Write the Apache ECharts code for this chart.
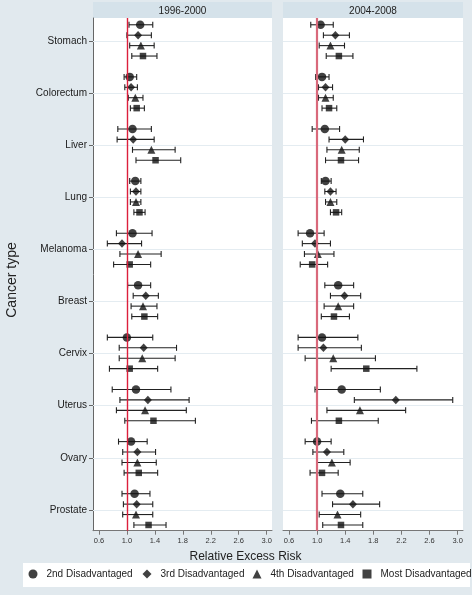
<!DOCTYPE html>
<html><head><meta charset="utf-8">
<script src="https://cdn.jsdelivr.net/npm/echarts@6/dist/echarts.min.js"></script>
<style>html,body{margin:0;padding:0;background:#e1e9ee}#c{width:472px;height:595px}</style>
</head><body><div id="c"></div>
<script>
const categories = ['Stomach','Colorectum','Liver','Lung','Melanoma','Breast','Cervix','Uterus','Ovary','Prostate'];
const groups = ['2nd Disadvantaged','3rd Disadvantaged','4th Disadvantaged','Most Disadvantaged'];
const panels = ['1996-2000','2004-2008'];
const xTicks = [0.6,1.0,1.4,1.8,2.2,2.6,3.0];

// [estimate, lower, upper] per cancer type, 1996-2000
const p1_2nd  = [[1.19,1.03,1.37],[1.04,0.96,1.14],[1.08,0.87,1.35],[1.12,1.04,1.20],[1.08,0.85,1.36],[1.16,1.01,1.34],[1.00,0.72,1.37],[1.13,0.79,1.63],[1.06,0.88,1.29],[1.11,0.93,1.33]];
const p1_3rd  = [[1.16,1.00,1.35],[1.06,0.97,1.15],[1.09,0.86,1.39],[1.13,1.05,1.20],[0.93,0.72,1.21],[1.27,1.09,1.45],[1.24,0.89,1.71],[1.30,0.90,1.89],[1.15,0.94,1.41],[1.14,0.95,1.37]];
const p1_4th  = [[1.20,1.04,1.39],[1.12,1.02,1.23],[1.35,1.08,1.69],[1.13,1.05,1.20],[1.16,0.90,1.49],[1.23,1.06,1.43],[1.22,0.89,1.69],[1.26,0.85,1.85],[1.15,0.93,1.42],[1.13,0.94,1.37]];
const p1_most = [[1.23,1.07,1.43],[1.14,1.05,1.25],[1.41,1.13,1.77],[1.18,1.10,1.26],[1.04,0.81,1.34],[1.25,1.07,1.44],[1.04,0.75,1.44],[1.38,0.97,1.98],[1.17,0.96,1.44],[1.31,1.10,1.56]];
// [estimate, lower, upper] per cancer type, 2004-2008
const p2_2nd  = [[1.05,0.91,1.23],[1.07,0.98,1.17],[1.11,0.93,1.32],[1.12,1.06,1.20],[0.90,0.73,1.10],[1.30,1.11,1.52],[1.07,0.73,1.58],[1.35,0.97,1.90],[1.00,0.83,1.20],[1.33,1.07,1.65]];
const p2_3rd  = [[1.26,1.09,1.46],[1.12,1.02,1.22],[1.40,1.17,1.66],[1.19,1.11,1.27],[0.97,0.79,1.19],[1.39,1.19,1.62],[1.09,0.73,1.63],[2.12,1.53,2.93],[1.14,0.94,1.38],[1.51,1.22,1.89]];
const p2_4th  = [[1.19,1.03,1.39],[1.12,1.02,1.23],[1.35,1.14,1.60],[1.19,1.12,1.28],[1.01,0.82,1.24],[1.30,1.10,1.52],[1.23,0.83,1.83],[1.61,1.14,2.26],[1.21,1.00,1.47],[1.29,1.03,1.62]];
const p2_most = [[1.31,1.13,1.51],[1.17,1.07,1.28],[1.34,1.12,1.59],[1.27,1.19,1.35],[0.93,0.76,1.15],[1.24,1.06,1.46],[1.70,1.20,2.42],[1.31,0.92,1.87],[1.07,0.90,1.30],[1.34,1.08,1.65]];

const panelData = [[p1_2nd,p1_3rd,p1_4th,p1_most],[p2_2nd,p2_3rd,p2_4th,p2_most]];

// style / layout
const offsets = [-0.31,-0.11,0.09,0.29];
const symbols = ['circle','diamond','triangle','rect'];
const symSizes = [8.5,[8,8.5],8,6.5];
const legendCenters = [33,147,257,367];
const gridLefts = [93,283];
const gridWidths = [179,180];
const refColors = ['#dc1f3c','#d9697b'];
const refWidths = [1.4,2.2];
const catIdx = categories.map((c,i)=>i);

const chart = echarts.init(document.getElementById('c'), null, {renderer:'canvas'});

const grids = [], xAxes = [], yAxes = [], series = [];
panels.forEach((p, pi) => {
  grids.push({left:gridLefts[pi], top:18, width:gridWidths[pi], height:512.7, show:true, backgroundColor:'#fff', borderWidth:0});
  xAxes.push({
    type:'value', gridIndex:pi, min:0.515, max:3.076,
    axisLine:{show:true, onZero:false, lineStyle:{color:'#777', width:1}},
    axisTick:{show:true, length:4, customValues:xTicks, lineStyle:{color:'#777'}},
    axisLabel:{show:true, customValues:xTicks, margin:6, fontSize:7.5, color:'#333', fontFamily:'Liberation Sans, Arial',
      formatter:v=>v.toFixed(1)},
    splitLine:{show:false}
  });
  yAxes.push({
    type:'value', gridIndex:pi, inverse:true, min:-0.44, max:9.4,
    axisLine:{show:pi===0, onZero:false, lineStyle:{color:'#666', width:1}},
    axisTick:{show:pi===0, length:4, customValues:catIdx, lineStyle:{color:'#666'}},
    axisLabel:{show:pi===0, customValues:catIdx, margin:6, fontSize:10, color:'#1a1a1a', fontFamily:'Liberation Sans, Arial',
      formatter:v=>categories[Math.round(v)] || ''},
    splitLine:{show:false}
  });
  series.push({
    type:'scatter', xAxisIndex:pi, yAxisIndex:pi, data:[], silent:true, z:1,
    markLine:{
      silent:true, symbol:'none', animation:false, label:{show:false},
      data: catIdx.map(i=>({yAxis:i, lineStyle:{color:'#e4ecf1', width:1, type:'solid'}}))
        .concat([{xAxis:1, lineStyle:{color:refColors[pi], width:refWidths[pi], type:'solid'}}])
    }
  });
  groups.forEach((g, gi) => {
    const arr = panelData[pi][gi];
    series.push({
      type:'custom', name:'ci', xAxisIndex:pi, yAxisIndex:pi, z:3, silent:true,
      data: arr.map((d,ci)=>[ci+offsets[gi], d[1], d[2]]),
      encode:{x:[1,2], y:0},
      renderItem:(params, api)=>{
        const y = api.value(0), lo = api.value(1), hi = api.value(2);
        const a = api.coord([lo,y]), b = api.coord([hi,y]);
        const h = 3, st = {stroke:'#222', lineWidth:1.1};
        return {type:'group', children:[
          {type:'line', shape:{x1:a[0],y1:a[1],x2:b[0],y2:b[1]}, style:st},
          {type:'line', shape:{x1:a[0],y1:a[1]-h,x2:a[0],y2:a[1]+h}, style:st},
          {type:'line', shape:{x1:b[0],y1:b[1]-h,x2:b[0],y2:b[1]+h}, style:st}
        ]};
      }
    });
    series.push({
      type:'scatter', name:g, xAxisIndex:pi, yAxisIndex:pi, z:4,
      symbol:symbols[gi], symbolSize:symSizes[gi], symbolKeepAspect:true,
      itemStyle:{color:'#111'},
      data: arr.map((d,ci)=>[d[0], ci+offsets[gi]])
    });
  });
});

const legends = groups.map((g,gi)=>({
  data:[g], left:legendCenters[gi]-4.5, top:569, padding:0, itemWidth:9, itemHeight:9,
  selectedMode:false,
  textStyle:{fontSize:10, color:'#222', fontFamily:'Liberation Sans, Arial', padding:[0,0,0,4]}
}));

const graphic = [
  {type:'rect', shape:{x:93, y:2, width:179, height:16}, style:{fill:'#d5e2ea'}, z:-1},
  {type:'rect', shape:{x:283, y:2, width:180, height:16}, style:{fill:'#d5e2ea'}, z:-1},
  {type:'text', x:182.5, y:11, style:{text:panels[0], fontSize:10, fill:'#222', align:'center', verticalAlign:'middle', fontFamily:'Liberation Sans, Arial'}},
  {type:'text', x:373, y:11, style:{text:panels[1], fontSize:10, fill:'#222', align:'center', verticalAlign:'middle', fontFamily:'Liberation Sans, Arial'}},
  {type:'rect', shape:{x:23, y:563, width:447, height:24}, style:{fill:'#fff'}, z:-1},
  {type:'text', x:245.5, y:557, style:{text:'Relative Excess Risk', fontSize:12, fill:'#222', align:'center', verticalAlign:'middle', fontFamily:'Liberation Sans, Arial'}},
  {type:'text', x:12.5, y:280, rotation:Math.PI/2, style:{text:'Cancer type', fontSize:14, fill:'#222', align:'center', verticalAlign:'middle', fontFamily:'Liberation Sans, Arial'}}
];

chart.setOption({
  backgroundColor:'#e1e9ee',
  animation:false,
  grid:grids, xAxis:xAxes, yAxis:yAxes, series:series,
  legend:legends, graphic:graphic
});
</script></body></html>
